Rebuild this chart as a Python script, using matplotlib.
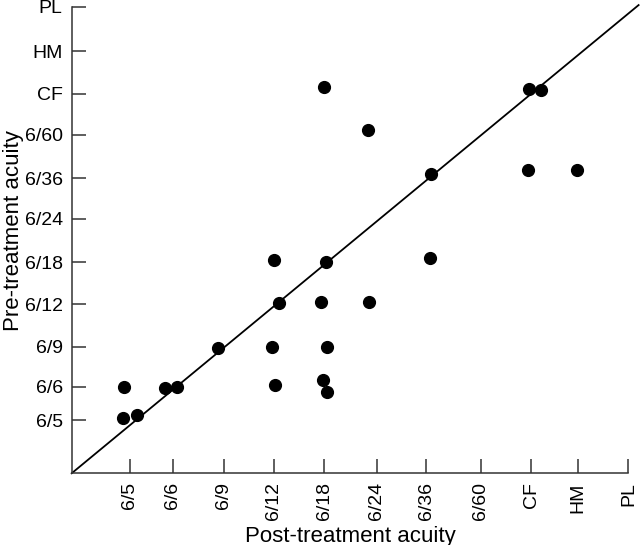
"""Pre- vs post-treatment visual acuity scatter with line of equality."""
import matplotlib
matplotlib.use("Agg")
import matplotlib.pyplot as plt

plt.rcParams['font.family'] = ['Liberation Sans', 'DejaVu Sans']

# Acuity categories and where they sit on each axis (ordinal scale units)
acuity_labels = ['6/5', '6/6', '6/9', '6/12', '6/18', '6/24', '6/36', '6/60', 'CF', 'HM', 'PL']
x_tick_pos = [1.15, 2.0, 3.0, 3.99, 4.99, 6.03, 7.0, 8.08, 9.08, 10.0, 11.0]
y_tick_pos = [1.26, 2.05, 3.0, 4.01, 5.0, 6.03, 6.99, 8.02, 9.0, 10.01, 11.06]

# Eyes: post-treatment (x) and pre-treatment (y) acuity
post_acuity = [1.03, 1.02, 1.29, 1.84, 2.08, 2.90, 3.99, 5.03, 4.09, 4.93, 5.88, 3.96,
               5.05, 4.02, 4.97, 5.05, 4.98, 5.85, 7.10, 7.08, 9.04, 9.28, 9.02, 9.99]
pre_acuity = [2.05, 1.32, 1.39, 2.01, 2.05, 2.98, 5.05, 5.02, 4.04, 4.05, 4.06, 2.99,
              2.99, 2.09, 2.22, 1.93, 9.15, 8.15, 7.10, 5.11, 9.11, 9.08, 7.19, 7.18]

# Line of no change, runs from the origin past the last category
equality_x = [0, 11.2]
equality_y = [0, 11.1]


def draw_acuity_plot():
    fig = plt.figure(figsize=(6.4, 5.45), dpi=100, facecolor='white')
    ax = fig.add_axes([0.112, 0.1316, 0.870, 0.856])

    ax.plot(equality_x, equality_y, color='black', linewidth=1.3, clip_on=False)
    ax.scatter(post_acuity, pre_acuity, s=72, color='black', zorder=3, clip_on=False)

    ax.set_xlim(0, x_tick_pos[-1])
    ax.set_ylim(0, y_tick_pos[-1])

    ax.set_xticks(x_tick_pos)
    ax.set_xticklabels(acuity_labels, rotation=90, fontsize=14)
    ax.set_yticks(y_tick_pos)
    ax.set_yticklabels(acuity_labels, fontsize=14)
    ax.tick_params(axis='both', direction='in', length=10, width=1.1, color='#333333')
    ax.tick_params(axis='x', pad=6.5)
    ax.tick_params(axis='y', pad=6.5)

    for side in ('top', 'right'):
        ax.spines[side].set_visible(False)
    for side in ('left', 'bottom'):
        ax.spines[side].set_linewidth(1.1)
        ax.spines[side].set_color('#333333')

    ax.set_xlabel('Post-treatment acuity', fontsize=16)
    ax.set_ylabel('Pre-treatment acuity', fontsize=16)
    ax.xaxis.set_label_coords(0.50, -0.112)
    ax.yaxis.set_label_coords(-0.086, 0.52)

    plt.savefig('out.png', dpi=100, facecolor='white')
    plt.close()


if __name__ == "__main__":
    draw_acuity_plot()
